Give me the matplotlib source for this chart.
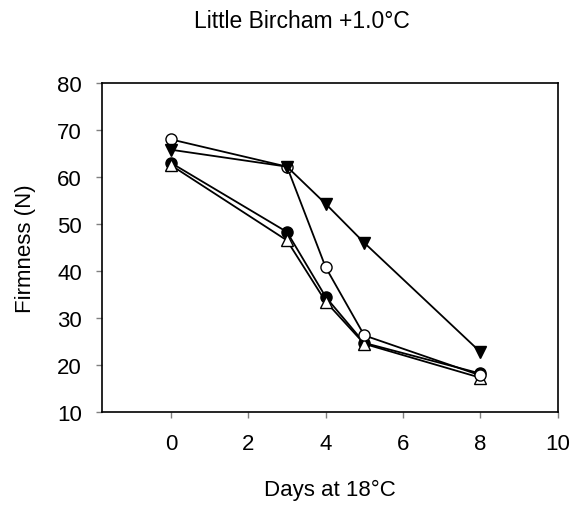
import matplotlib.pyplot as plt

plt.rcParams["font.family"] = ["Liberation Sans", "DejaVu Sans"]

days = [0, 3, 4, 5, 8]
open_circle = [68.0, 62.2, 40.8, 26.3, 17.8]
filled_tri = [65.8, 62.2, 54.3, 46.0, 22.8]
filled_circle = [63.0, 48.3, 34.5, 24.7, 18.2]
open_tri = [62.5, 46.5, 33.5, 24.5, 17.3]

W, H = 575, 506
fig = plt.figure(figsize=(W / 100, H / 100), dpi=100)
# plot box in pixels: left 101.5, right 557.5, top 84, bottom 413
ax = fig.add_axes([101.5 / W, 1 - 413 / H, 456 / W, 329 / H])

ax.plot(days, filled_circle, "-o", color="black", mfc="black", ms=8, lw=1.3)
ax.plot(days, open_tri, "-^", color="black", mfc="white", ms=9, lw=1.3)
ax.plot(days, open_circle, "-o", color="black", mfc="white", ms=8, lw=1.3)
ax.plot(days, filled_tri, "-v", color="black", mfc="black", ms=9, lw=1.3)

ax.set_xlim(-1.8, 10)
ax.set_ylim(10, 80)
ax.set_xticks([0, 2, 4, 6, 8, 10])
ax.set_yticks([10, 20, 30, 40, 50, 60, 70, 80])
ax.tick_params(labelsize=16, direction="out", length=4, width=1, color="#808080")
ax.tick_params(axis="x", pad=11)
ax.tick_params(axis="y", pad=10)
for s in ax.spines.values():
    s.set_linewidth(1.2)

ax.set_xlabel("Days at 18°C", fontsize=16, va="center")
ax.xaxis.set_label_coords(0.5, (413 - 490) / 329)
ax.set_ylabel("Firmness (N)", fontsize=16, va="center")
ax.yaxis.set_label_coords((25 - 101.5) / 456, 0.5)
fig.text(302 / W, 1 - 22 / H, "Little Bircham +1.0°C", ha="center", va="center", fontsize=16.5)

fig.savefig("out.png", dpi=100)
